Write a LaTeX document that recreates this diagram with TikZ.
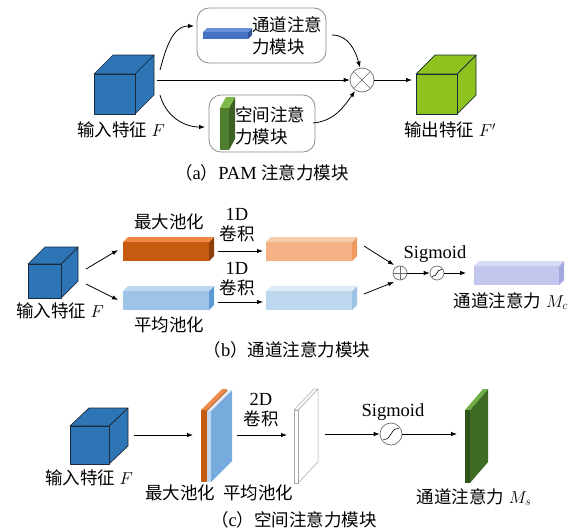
\documentclass[tikz,border=0pt]{standalone}
\usepackage{fontspec}
\setmainfont{Liberation Serif}
\newfontfamily\cjkfam{Noto Sans CJK SC}
\newcommand\zh[1]{{\cjkfam\fontsize{17.5}{22}\selectfont #1}}
\usetikzlibrary{arrows.meta}
\definecolor{cubeblue}{HTML}{2E75B6}
\definecolor{cubeedgecol}{HTML}{1A2A3A}
\definecolor{cubegreen}{HTML}{8DC21F}
\definecolor{boxgray}{HTML}{8A8A8A}
\definecolor{circgray}{HTML}{707070}
\definecolor{barAf}{HTML}{4472C4}\definecolor{barAt}{HTML}{6A92DA}\definecolor{barAs}{HTML}{2F5597}
\definecolor{plAf}{HTML}{507E2F}\definecolor{plAt}{HTML}{7DB84A}\definecolor{plAs}{HTML}{3B6222}
\definecolor{orf}{HTML}{C55A11}\definecolor{ort}{HTML}{EE8644}\definecolor{ors}{HTML}{8E3F0C}
\definecolor{lof}{HTML}{F4B183}\definecolor{lot}{HTML}{F8CBAD}\definecolor{los}{HTML}{EE9A5F}
\definecolor{lbf}{HTML}{9DC3E6}\definecolor{lbt}{HTML}{BDD7EE}\definecolor{lbs}{HTML}{5B9BD5}
\definecolor{vbf}{HTML}{BDD7EE}\definecolor{vbt}{HTML}{DEEBF7}\definecolor{vbs}{HTML}{9DC3E6}
\definecolor{lvf}{HTML}{C3C7EE}\definecolor{lvt}{HTML}{D8DBF5}\definecolor{lvs}{HTML}{A3A9E0}
\definecolor{pof}{HTML}{C55A11}\definecolor{pot}{HTML}{F08A4B}\definecolor{pos}{HTML}{C55A11}
\definecolor{pbf}{HTML}{BDD7EE}\definecolor{pbt}{HTML}{DEEBF7}\definecolor{pbs}{HTML}{78ABDD}
\definecolor{pgf}{HTML}{2F5418}\definecolor{pgt}{HTML}{70AD47}\definecolor{pgs}{HTML}{3F6A23}
\newcommand\cuboid[9]{%
  \path[cubedge, fill=#9] ({#1+#3},{#2}) -- ++(#5,-#6) -- ++(0,#4) -- ++(-#5,#6) -- cycle;
  \path[cubedge, fill=#8] ({#1},{#2}) -- ++(#5,-#6) -- ++(#3,0) -- ++(-#5,#6) -- cycle;
  \path[cubedge, fill=#7] ({#1},{#2}) rectangle ++(#3,#4);
}
\newcommand\sigsym[2]{%
  \draw[line width=0.6pt] ([shift={(-0.7*#2,0.5*#2)}]#1.center) .. controls ([shift={(0.2*#2,0.5*#2)}]#1.center) and ([shift={(-0.2*#2,-0.5*#2)}]#1.center) .. ([shift={(0.7*#2,-0.5*#2)}]#1.center);}
\tikzset{
  arr/.style={-{Latex[length=6pt,width=4.5pt]}, line width=0.8pt},
  lbl/.style={font=\fontsize{18.5}{21}\selectfont, inner sep=0pt},
  twoline/.style={font=\fontsize{18.5}{20}\selectfont, inner sep=0pt, align=center},
  cjklbl/.style={font=\cjkfam\fontsize{17.5}{22}\selectfont, inner sep=0pt},
  rbox/.style={draw=boxgray, rounded corners=12pt, line width=0.8pt, inner sep=0pt},
  opcirc/.style={circle, draw=circgray, line width=0.7pt, inner sep=0pt},
  cubedge/.style={draw=cubeedgecol, line width=0.7pt, line join=round},
}
\begin{document}
\begin{tikzpicture}[x=1pt,y=-1pt]
\useasboundingbox[fill=white] (0,0) rectangle (583,530);

% ================= (a) =================
\cuboid{94}{74}{41}{40}{19}{19}{cubeblue}{cubeblue}{cubeblue}
\node[lbl] (labInA) at (121,130) {\zh{输入特征} $F$};

\node[rbox, minimum width=129pt, minimum height=55pt] (tbox) at (261.5,35.5) {};
\begin{scope}[cubedge/.style={draw=none}]
  \cuboid{203}{32}{45}{7}{4}{4}{barAf}{barAt}{barAs}
\end{scope}
\node[cjklbl, align=left, anchor=west] (tboxtxt) at (252,36) {通道注意\\力模块};

\node[rbox, minimum width=106pt, minimum height=57pt] (bbox) at (262,123.5) {};
\begin{scope}[cubedge/.style={draw=none}]
  \cuboid{220}{108}{9}{42}{6}{11}{plAf}{plAt}{plAs}
\end{scope}
\node[cjklbl, align=left, anchor=west] (bboxtxt) at (235,126) {空间注意\\力模块};

\node[opcirc, minimum size=24pt] (otimes) at (362,80) {};
\draw[circgray, line width=0.6pt] (otimes.north west) -- (otimes.south east) (otimes.north east) -- (otimes.south west);

\cuboid{416}{74}{41}{40}{19}{19}{cubegreen}{cubegreen}{cubegreen}
\node[lbl] (labOutA) at (450,130) {\zh{输出特征} $F'$};

\coordinate (aS0) at (157,80);
\coordinate (aS1) at (160,70);
\coordinate (aE1) at (194,26);
\coordinate (aS2) at (160,95);
\coordinate (aE2) at (205,127);
\coordinate (aS3) at (332,35);
\coordinate (aE3) at (360,67.5);
\coordinate (aS4) at (313,123);
\coordinate (aE4) at (355,91);
\coordinate (aE5) at (412,80);
\draw[arr] (aS0) -- (otimes);
\draw[arr] (aS1) to[out=75,in=180] (aE1);
\draw[arr] (aS2) to[out=-75,in=180] (aE2);
\draw[arr] (aS3) to[out=0,in=105] (aE3);
\draw[arr] (aS4) to[out=5,in=-125] (aE4);
\draw[arr] (otimes) -- (aE5);

\node[lbl] (capA) at (262,173) {\zh{（}a\zh{）}PAM \zh{注意力模块}};

% ================= (b) =================
\cuboid{28}{264}{33}{34}{17}{17}{cubeblue}{cubeblue}{cubeblue}
\node[lbl] (labInB) at (60,311) {\zh{输入特征} $F$};

\begin{scope}[cubedge/.style={draw=none}]
  \cuboid{123}{242}{86}{19}{5}{5}{orf}{ort}{ors}
  \cuboid{266}{242}{86}{19}{5}{5}{lof}{lot}{los}
  \cuboid{123}{291}{86}{19}{5}{5}{lbf}{lbt}{lbs}
  \cuboid{266}{291}{86}{19}{5}{5}{vbf}{vbt}{vbs}
  \cuboid{474}{266}{85}{19}{5}{5}{lvf}{lvt}{lvs}
\end{scope}

\node[cjklbl] (labMaxB) at (169,222) {最大池化};
\node[cjklbl] (labAvgB) at (169,325) {平均池化};
\node[twoline] (conv1) at (237,225) {1D\\\zh{卷积}};
\node[twoline] (conv2) at (237,279) {1D\\\zh{卷积}};

\node[opcirc, minimum size=14pt] (oplus) at (400,273) {};
\draw[circgray, line width=0.6pt] (oplus.north) -- (oplus.south) (oplus.west) -- (oplus.east);
\node[opcirc, minimum size=14pt] (sigB) at (437,273) {};
\sigsym{sigB}{7}
\node[lbl] (sigtxtB) at (435,254) {Sigmoid};
\node[lbl] (labOutB) at (511,301) {\zh{通道注意力} $M_c$};

\coordinate (bS1) at (86,269);
\coordinate (bE1) at (118,250);
\coordinate (bS2) at (86,284);
\coordinate (bE2) at (118,300);
\coordinate (bS3) at (218,251);
\coordinate (bE3) at (263,251);
\coordinate (bS4) at (218,302);
\coordinate (bE4) at (263,302);
\coordinate (bS5) at (364,246);
\coordinate (bE5) at (394,265);
\coordinate (bS6) at (364,294);
\coordinate (bE6) at (394,282);
\coordinate (bE7) at (466,273);
\draw[arr] (bS1) -- (bE1);
\draw[arr] (bS2) -- (bE2);
\draw[arr] (bS3) -- (bE3);
\draw[arr] (bS4) -- (bE4);
\draw[arr] (bS5) -- (bE5);
\draw[arr] (bS6) -- (bE6);
\draw[arr] (oplus) -- (sigB);
\draw[arr] (sigB) -- (bE7);

\node[lbl] (capB) at (287,350) {\zh{（}b\zh{）通道注意力模块}};

% ================= (c) =================
\cuboid{70}{426}{39}{38}{19}{18}{cubeblue}{cubeblue}{cubeblue}
\node[lbl] (labInC) at (89,478) {\zh{输入特征} $F$};

\begin{scope}[cubedge/.style={draw=none}]
  \cuboid{201}{410}{5}{72}{21}{21}{pof}{pot}{pos}
  \cuboid{207}{411}{4}{71}{21}{21}{pbf}{pbt}{pbs}
  \cuboid{465}{410}{5}{73}{18}{21}{pgf}{pgt}{pgs}
\end{scope}
\begin{scope}[cubedge/.style={draw=gray!70, line width=0.5pt, line join=round}]
  \cuboid{294}{410}{4}{73}{20}{21}{white}{white}{white}
\end{scope}

\node[cjklbl] (labMaxC) at (180,493) {最大池化};
\node[cjklbl] (labAvgC) at (258,493) {平均池化};
\node[twoline] (conv3) at (261,410) {2D\\\zh{卷积}};

\node[opcirc, minimum size=22pt] (sigC) at (391,434) {};
\sigsym{sigC}{11}
\node[lbl] (sigtxtC) at (393,412) {Sigmoid};
\node[lbl] (labOutC) at (474,497) {\zh{通道注意力} $M_s$};

\coordinate (cS1) at (134,435);
\coordinate (cE1) at (193,435);
\coordinate (cS2) at (237,435);
\coordinate (cE2) at (287,435);
\coordinate (cS3) at (325,434);
\coordinate (cE4) at (457,434);
\draw[arr] (cS1) -- (cE1);
\draw[arr] (cS2) -- (cE2);
\draw[arr] (cS3) -- (sigC);
\draw[arr] (sigC) -- (cE4);

\node[lbl] (capC) at (294,520) {\zh{（}c\zh{）空间注意力模块}};
\end{tikzpicture}
\end{document}
